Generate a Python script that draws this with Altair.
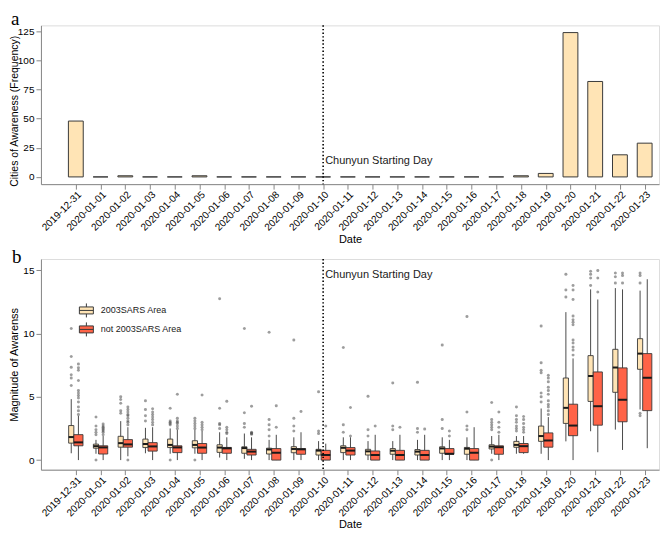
import altair as alt
import pandas as pd

dates = ["2019-12-31", "2020-01-01", "2020-01-02", "2020-01-03", "2020-01-04", "2020-01-05",
         "2020-01-06", "2020-01-07", "2020-01-08", "2020-01-09", "2020-01-10", "2020-01-11",
         "2020-01-12", "2020-01-13", "2020-01-14", "2020-01-15", "2020-01-16", "2020-01-17",
         "2020-01-18", "2020-01-19", "2020-01-20", "2020-01-21", "2020-01-22", "2020-01-23"]
cities = [48, 0, 1, 0, 0, 1, 0, 0, 0, 0, 0, 0, 0, 0, 0, 0, 0, 0, 1, 3, 124, 82, 19, 29]

groups = ["2003SARS Area", "not 2003SARS Area"]
colors = ["#FFE4B5", "#FF6347"]

# 2003SARS Area: lower whisker, q1, median, q3, upper whisker, outliers
sars_lo = [0.54, 0.5, 0.0, 0.54, 0.5, 0.5, 0.2, 0.1, 0.0, 0.0, 0.0, 0.0,
           0.0, 0.0, 0.0, 0.0, 0.0, 0.5, 0.5, 0.5, 1.48, 2.28, 2.41, 4.0]
sars_q1 = [1.34, 0.94, 1.02, 0.99, 0.99, 0.97, 0.61, 0.54, 0.48, 0.58, 0.4, 0.59,
           0.4, 0.46, 0.4, 0.54, 0.46, 0.88, 1.01, 1.48, 2.9, 4.64, 5.36, 7.18]
sars_med = [1.82, 1.1, 1.34, 1.27, 1.2, 1.2, 0.99, 0.95, 0.84, 0.88, 0.75, 0.97,
            0.69, 0.74, 0.67, 0.92, 0.9, 1.07, 1.2, 1.9, 4.13, 6.65, 7.32, 8.42]
sars_q3 = [2.73, 1.26, 1.88, 1.66, 1.66, 1.53, 1.21, 1.05, 0.94, 1.06, 0.85, 1.13,
           0.85, 0.91, 0.83, 1.05, 1.0, 1.21, 1.48, 2.69, 6.49, 8.26, 8.76, 9.6]
sars_hi = [4.82, 1.6, 3.08, 2.55, 2.5, 2.4, 2.2, 2.1, 1.6, 1.8, 1.5, 1.8,
           1.5, 1.5, 1.6, 1.8, 1.8, 1.9, 1.9, 4.08, 11.7, 13.5, 13.6, 13.4]
sars_out = [[10.4, 8.2, 7.35, 6.75, 6.5, 5.9], [3.4, 2.7, 2.4, 2.2, 2.0, 0.0],
            [5.0, 4.8, 4.5, 3.9, 3.7], [4.7, 4.0, 3.5, 3.1], [4.1, 3.1, 3.0, 2.9, 2.8, 0.0],
            [3.3, 3.1, 2.9, 2.7, 2.5, 0.0], [12.75, 4.1, 2.9, 2.8, 2.5], [10.4, 3.75, 2.9, 2.6],
            [10.1, 3.2, 2.8, 2.4, 1.9], [9.5, 3.3, 2.7, 2.3], [5.4, 2.3, 2.1], [8.9, 2.8, 2.2],
            [5.05, 2.4, 1.9], [6.1, 2.7, 2.4], [6.15, 2.5, 2.2], [9.1, 3.2, 2.5],
            [11.35, 3.8, 2.7, 2.4], [4.55, 3.2, 3.0, 2.8, 2.6, 2.4, 0.0],
            [4.2, 3.5, 3.2, 3.0, 2.7, 2.5, 2.3], [10.6, 7.7, 7.1, 6.9, 5.3, 5.0, 4.6],
            [14.7, 13.45, 12.9], [14.93, 14.7, 14.4, 13.8], [14.8, 14.5, 14.0],
            [14.8, 14.6, 14.0, 3.7, 3.5]]

# not 2003SARS Area
non_lo = [0.0, 0.0, 0.3, 0.0, 0.0, 0.0, 0.0, 0.0, 0.0, 0.0, 0.0, 0.0,
          0.0, 0.0, 0.0, 0.0, 0.0, 0.0, 0.5, 0.0, 0.0, 0.62, 0.8, 0.94]
non_q1 = [1.13, 0.48, 1.02, 0.71, 0.59, 0.54, 0.54, 0.4, 0.0, 0.46, 0.0, 0.4,
          0.0, 0.0, 0.0, 0.46, 0.0, 0.46, 0.59, 1.02, 1.93, 2.76, 3.03, 3.91]
non_med = [1.4, 1.0, 1.24, 1.08, 1.0, 0.99, 0.93, 0.67, 0.58, 0.85, 0.4, 0.75,
           0.4, 0.4, 0.4, 0.5, 0.58, 1.02, 1.1, 1.55, 2.73, 4.26, 4.77, 6.51]
non_q3 = [2.01, 1.13, 1.62, 1.38, 1.13, 1.31, 1.0, 0.85, 0.91, 0.91, 0.77, 0.99,
          0.72, 0.77, 0.77, 0.91, 0.91, 1.13, 1.31, 2.15, 4.42, 6.97, 7.29, 8.42]
non_hi = [3.5, 1.9, 2.6, 2.6, 2.4, 2.3, 1.8, 1.8, 2.0, 2.2, 1.3, 1.8,
          2.0, 2.0, 2.0, 1.6, 2.6, 2.0, 1.9, 3.4, 8.04, 12.7, 13.5, 14.3]
non_out = [[7.6, 7.3, 7.1, 6.3, 5.5, 5.3, 5.1, 4.9, 4.6, 4.2, 3.9, 3.6],
           [2.85, 2.7, 2.6, 2.5, 2.4, 2.3, 2.2, 2.0],
           [4.2, 4.0, 3.8, 3.6, 3.5, 3.3, 3.1, 3.0, 2.8, 0.0],
           [4.05, 3.8, 3.6, 3.4, 3.2, 3.0, 2.8],
           [5.2, 3.3, 3.1, 3.0, 2.9, 2.7, 2.5],
           [5.15, 3.0, 2.8, 2.6, 2.4], [4.65, 2.6, 2.4, 2.2, 2.1],
           [4.25, 2.2, 2.15, 2.1, 2.05], [4.3, 2.6], [3.85], [2.7], [4.15, 1.9],
           [2.7], [2.6], [2.45], [2.3, 1.9], [], [3.8, 3.0, 2.6, 2.2],
           [3.45, 3.2, 2.9, 2.6, 2.4, 2.2],
           [6.7, 6.5, 6.2, 5.75, 5.5, 5.2, 4.7, 4.4, 4.2, 3.9, 3.6],
           [13.8, 13.45, 12.7, 11.4, 11.1, 10.9, 10.7, 9.5, 9.25, 8.95, 8.7, 8.3],
           [15.0, 14.4, 13.3], [14.8, 14.6, 14.0], []]

vline_date = "2020-01-10"
annot_text = "Chunyun Starting Day"
annot_y_a = 13.5
annot_y_b = 14.6

# ---------- derived tables ----------
n = len(dates)
vidx = dates.index(vline_date)
label_expr = "[" + ",".join("'%s'" % d for d in dates) + "][datum.value]"

bar_half = 0.3
bars = pd.DataFrame({"idx": list(range(n)), "date": dates, "count": cities})
bars["xl"] = bars["idx"] - bar_half
bars["xr"] = bars["idx"] + bar_half
bars["base"] = 0

box_w = {groups[0]: 0.21, groups[1]: 0.37}
stats = {groups[0]: (sars_lo, sars_q1, sars_med, sars_q3, sars_hi, sars_out),
         groups[1]: (non_lo, non_q1, non_med, non_q3, non_hi, non_out)}
total_w = sum(box_w.values())
box_rows, out_rows = [], []
for i in range(n):
    left = i - total_w / 2
    for g in groups:
        lo, q1, med, q3, hi, out = stats[g]
        xl, xr = left, left + box_w[g]
        xm = (xl + xr) / 2
        box_rows.append(dict(idx=i, date=dates[i], group=g, lo=lo[i], q1=q1[i], med=med[i],
                             q3=q3[i], hi=hi[i], xl=xl, xr=xr, xm=xm))
        for v in out[i]:
            out_rows.append(dict(idx=i, group=g, value=v, xm=xm))
        left = xr
boxes = pd.DataFrame(box_rows)
outs = pd.DataFrame(out_rows)
vdf = pd.DataFrame({"idx": [vidx]})
ann_a = pd.DataFrame({"idx": [vidx], "y": [annot_y_a], "t": [annot_text]})
ann_b = pd.DataFrame({"idx": [vidx], "y": [annot_y_b], "t": [annot_text]})

FONT = "Liberation Sans"
W = 619
HA = 159
HB = 211
xscale = alt.Scale(domain=[-1.41, 23.58], nice=False, zero=False)
xaxis = alt.Axis(values=list(range(n)), labelExpr=label_expr, labelAngle=-45,
                 labelAlign="right", labelBaseline="top", title="Date", grid=False,
                 labelOverlap=False, labelPadding=0, titlePadding=1,
                 titleFontWeight="normal", titleFont=FONT, titleFontSize=11)

def yaxis(title, vals, size=11, **kw):
    return alt.Axis(title=title, values=vals, grid=False, minExtent=21, maxExtent=21,
                    titlePadding=0, labelPadding=2, labelOverlap=False,
                    titleFontWeight="normal", titleFont=FONT, titleFontSize=size, **kw)

def X(field):
    return alt.X(field, scale=xscale, axis=xaxis)

# ---------- panel a ----------
ya = alt.Scale(domain=[-6.2, 130.2], nice=False, zero=False)
ya_axis = yaxis("Cities of Awareness (Frequency)", [0, 25, 50, 75, 100, 125],
                size=10.5, titleY=HA / 2 + 6, titleAnchor="middle")

def YA(field):
    return alt.Y(field, scale=ya, axis=ya_axis)

bar_layer = alt.Chart(bars).mark_bar(fill="#FFE4B5", stroke="#3a3a3a", strokeWidth=1).encode(
    x=X("xl:Q"), x2="xr:Q", y=YA("count:Q"), y2="base:Q")
vline_a = alt.Chart(vdf).mark_rule(color="black", strokeDash=[1.4, 2.2], strokeWidth=1.6).encode(
    x=X("idx:Q"))
text_a = alt.Chart(ann_a).mark_text(align="left", dx=2, font=FONT, fontSize=11,
                                    color="#1a1a1a").encode(
    x=X("idx:Q"), y=YA("y:Q"), text="t:N")
panel_a = alt.layer(bar_layer, vline_a, text_a).properties(
    width=W, height=HA,
    title=alt.TitleParams("a", font="Liberation Serif", fontSize=19, fontWeight="normal",
                          anchor="start", frame="bounds", dx=1, offset=-4, color="black"))

# ---------- panel b ----------
yb = alt.Scale(domain=[-0.76, 15.9], nice=False, zero=False)
yb_axis = yaxis("Magnitude of Awarenss", [0, 5, 10, 15])

def YB(field):
    return alt.Y(field, scale=yb, axis=yb_axis)

whisk = alt.Chart(boxes).mark_rule(color="#4a4a4a", strokeWidth=1).encode(
    x=X("xm:Q"), y=YB("lo:Q"), y2="hi:Q")
glyph = "M-1,-0.5H1V0.5H-1Z M-1,0H1 M0,-0.5V-1 M0,0.5V1"
box = alt.Chart(boxes).mark_bar(stroke="#3a3a3a", strokeWidth=0.9).encode(
    x=X("xl:Q"), x2="xr:Q", y=YB("q1:Q"), y2="q3:Q",
    color=alt.Color("group:N", scale=alt.Scale(domain=groups, range=colors),
                    legend=alt.Legend(orient="none", legendX=38, legendY=44, title=None,
                                      symbolType=glyph, symbolSize=196,
                                      symbolStrokeColor="#3a3a3a", symbolStrokeWidth=1,
                                      labelFont=FONT, labelFontSize=9, labelColor="#1a1a1a",
                                      labelOffset=7, rowPadding=0)))
med = alt.Chart(boxes).mark_rule(color="#1a1a1a", strokeWidth=2).encode(
    x=X("xl:Q"), x2="xr:Q", y=YB("med:Q"))
pts = alt.Chart(outs).mark_circle(size=9, color="#4d4d4d", opacity=0.55).encode(
    x=X("xm:Q"), y=YB("value:Q"))
vline_b = alt.Chart(vdf).mark_rule(color="black", strokeDash=[1.4, 2.2], strokeWidth=1.6).encode(
    x=X("idx:Q"))
text_b = alt.Chart(ann_b).mark_text(align="left", dx=2, font=FONT, fontSize=11,
                                    color="#1a1a1a").encode(
    x=X("idx:Q"), y=YB("y:Q"), text="t:N")
panel_b = alt.layer(whisk, box, med, pts, vline_b, text_b).properties(
    width=W, height=HB,
    title=alt.TitleParams("b", font="Liberation Serif", fontSize=19, fontWeight="normal",
                          anchor="start", frame="bounds", dx=3, offset=-9, color="black"))

chart = alt.vconcat(panel_a, panel_b, spacing=2).resolve_legend(
    color="independent").resolve_scale(color="independent").properties(padding=0).configure_view(
    stroke="#666666", strokeWidth=1
).configure_axis(
    domain=False, ticks=True, tickColor="#333333", tickSize=3,
    labelFont=FONT, labelFontSize=9, labelColor="#4d4d4d",
    titleFont=FONT, titleFontSize=11, titleFontWeight="normal", titleColor="#000000"
).configure(background="white")

chart.save("out.html", embed_options={"renderer": "svg", "actions": False})
